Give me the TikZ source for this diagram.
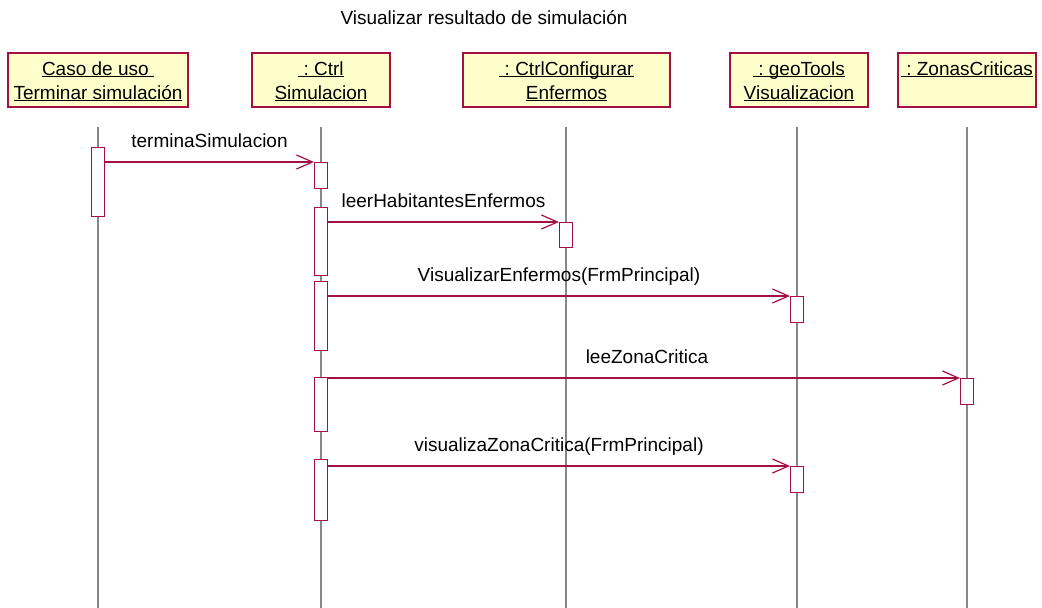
\documentclass[tikz,border=0pt]{standalone}
\usepackage{fontspec}
\setmainfont{Liberation Sans}
\usetikzlibrary{arrows.meta}
\definecolor{crim}{RGB}{165,15,65}
\definecolor{boxfill}{RGB}{255,255,204}
\definecolor{lifegray}{RGB}{135,135,135}
\newcommand\uln[1]{\setbox0=\hbox{#1}\rlap{\rule[-2.2pt]{\wd0}{1.1pt}}\box0}
\frenchspacing
\tikzset{
  objbox/.style={draw=crim, fill=boxfill, line width=1.2pt, minimum height=54pt, inner sep=0pt},
  lbl/.style={inner sep=0pt, anchor=base, font=\fontsize{19}{23}\selectfont},
  life/.style={draw=lifegray, line width=1.4pt},
  act/.style={draw=crim, fill=white, line width=1.1pt, minimum width=13pt, inner sep=0pt, anchor=north},
  msg/.style={draw=crim, line width=1.2pt, -{Straight Barb[length=16pt,width=14pt]}},
  msglbl/.style={inner sep=0pt, anchor=base, yshift=15pt, font=\fontsize{19}{23}\selectfont}
}
\begin{document}
\begin{tikzpicture}[x=1pt,y=-1pt]
\useasboundingbox (0,0) rectangle (1042,608);
% title
\node[lbl] (title) at (484,24) {Visualizar resultado de simulación};
% object boxes
\node[objbox, minimum width=180pt] (b1) at (98,80) {};
\node[objbox, minimum width=138pt] (b2) at (321,80) {};
\node[objbox, minimum width=207pt] (b3) at (566.5,80) {};
\node[objbox, minimum width=138pt] (b4) at (799,80) {};
\node[objbox, minimum width=138pt] (b5) at (967,80) {};
% box texts
\node[lbl] (t1a) at (98,75) {\uln{Caso de uso\ }};
\node[lbl] (t1b) at (98,99) {\uln{Terminar simulación}};
\node[lbl] (t2a) at (321,75) {\uln{\ : Ctrl}};
\node[lbl] (t2b) at (321,99) {\uln{Simulacion}};
\node[lbl] (t3a) at (566.5,75) {\uln{\ : CtrlConfigurar}};
\node[lbl] (t3b) at (566.5,99) {\uln{Enfermos}};
\node[lbl] (t4a) at (799,75) {\uln{\ : geoTools}};
\node[lbl] (t4b) at (799,99) {\uln{Visualizacion}};
\node[lbl] (t5a) at (967,75) {\uln{\ : ZonasCriticas}};
% lifelines
\coordinate (l1t) at (98,127);  \coordinate (l1b) at (98,608);
\coordinate (l2t) at (321,127); \coordinate (l2b) at (321,608);
\coordinate (l3t) at (566,127); \coordinate (l3b) at (566,608);
\coordinate (l4t) at (797,127); \coordinate (l4b) at (797,608);
\coordinate (l5t) at (967,127); \coordinate (l5b) at (967,608);
\draw[life] (l1t) -- (l1b);
\draw[life] (l2t) -- (l2b);
\draw[life] (l3t) -- (l3b);
\draw[life] (l4t) -- (l4b);
\draw[life] (l5t) -- (l5b);
% activations
\node[act, minimum height=69pt] (a1) at (98,147) {};
\node[act, minimum height=26pt] (a2) at (321,162) {};
\node[act, minimum height=68pt] (a3) at (321,207) {};
\node[act, minimum height=25pt] (a4) at (566,222) {};
\node[act, minimum height=69pt] (a5) at (321,281) {};
\node[act, minimum height=26pt] (a6) at (797,296) {};
\node[act, minimum height=54pt] (a7) at (321,377) {};
\node[act, minimum height=26pt] (a8) at (967,378) {};
\node[act, minimum height=61pt] (a9) at (321,459) {};
\node[act, minimum height=26pt] (a10) at (797,466) {};
% messages
\draw[msg] (a1.east |- a2.north) -- node[msglbl] (m1) {terminaSimulacion} (a2.north west);
\draw[msg] (a3.east |- a4.north) -- node[msglbl] (m2) {leerHabitantesEnfermos} (a4.north west);
\draw[msg] (a5.east |- a6.north) -- node[msglbl] (m3) {VisualizarEnfermos(FrmPrincipal)} (a6.north west);
\draw[msg] (a7.east |- a8.north) -- node[msglbl, xshift=3pt] (m4) {leeZonaCritica} (a8.north west);
\draw[msg] (a9.east |- a10.north) -- node[msglbl] (m5) {visualizaZonaCritica(FrmPrincipal)} (a10.north west);
\end{tikzpicture}
\end{document}
